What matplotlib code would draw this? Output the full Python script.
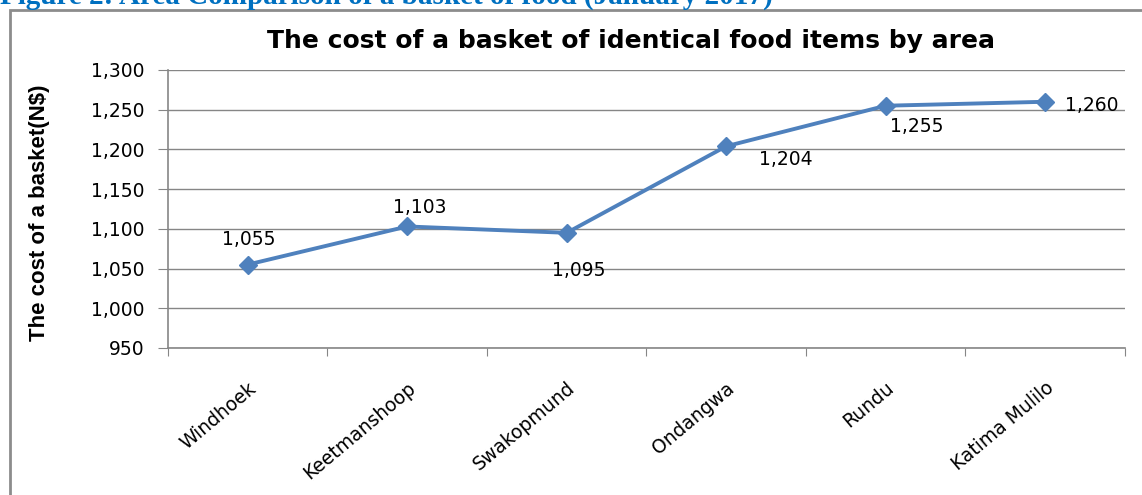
import matplotlib.pyplot as plt
from matplotlib.patches import Rectangle
from matplotlib.ticker import FuncFormatter

areas = ["Windhoek", "Keetmanshoop", "Swakopmund", "Ondangwa", "Rundu", "Katima Mulilo"]
costs = [1055, 1103, 1095, 1204, 1255, 1260]
# label offsets in pixels (dx, dy) per point
label_offsets = [(1, 25), (13, 19), (12, -38), (60, -13), (31, -21), (47, -4)]

fig = plt.figure(figsize=(11.42, 4.95), dpi=100)
ax = fig.add_axes([0.1471, 0.297, 0.838, 0.5616])

# outer chart border
fig.patches.append(Rectangle((10 / 1142, -0.05), 1.1, 1 - 10 / 495 + 0.05,
                             transform=fig.transFigure, fill=False,
                             edgecolor="#8c8c8c", lw=2, clip_on=False))

# heading from the document, clipped at the top edge
fig.text(0.0, 0.993, "Figure 2: Area Comparison of a basket of food (January 2017)",
         color="#0070C0", fontsize=21, fontweight="bold",
         family=["Liberation Serif", "DejaVu Serif"], va="baseline", ha="left")

x = [i + 0.5 for i in range(len(areas))]
ax.plot(x, costs, color="#4F81BD", lw=2.8, marker="D", markersize=9, zorder=3)
for xi, c, (dx, dy) in zip(x, costs, label_offsets):
    ax.annotate(f"{c:,}", (xi, c), xytext=(dx, dy), textcoords="offset pixels",
                ha="center", va="center", fontsize=13.5, color="black")

ax.set_xlim(0, len(areas))
ax.set_ylim(950, 1300)
ax.set_yticks(range(950, 1301, 50))
ax.yaxis.set_major_formatter(FuncFormatter(lambda v, p: f"{int(v):,}"))
ax.set_xticks(range(len(areas) + 1))
ax.set_xticklabels([])
ax.set_xticks(x, minor=True)
ax.set_xticklabels(areas, minor=True, rotation=40, ha="right", rotation_mode="anchor",
                   fontsize=13.5)
ax.tick_params(axis="x", which="minor", length=0, pad=22)
ax.tick_params(axis="x", which="major", length=6, color="#868686", direction="out")
ax.tick_params(axis="y", length=7, color="#868686", labelsize=13.5, pad=10)
ax.grid(axis="y", color="#868686", lw=1)
for s in ["top", "right"]:
    ax.spines[s].set_visible(False)
for s in ["left", "bottom"]:
    ax.spines[s].set_color("#868686")
    ax.spines[s].set_linewidth(1.2)
ax.set_axisbelow(True)

fig.text(0.5525, 0.918, "The cost of a basket of identical food items by area",
         fontsize=18, fontweight="bold", ha="center", va="center")
fig.text(0.035, 0.57, "The cost of a basket(N$)", fontsize=16, fontweight="bold",
         family=["Liberation Sans Narrow", "Liberation Sans", "DejaVu Sans"], rotation=90,
         ha="center", va="center")

fig.savefig("out.png", dpi=100)
